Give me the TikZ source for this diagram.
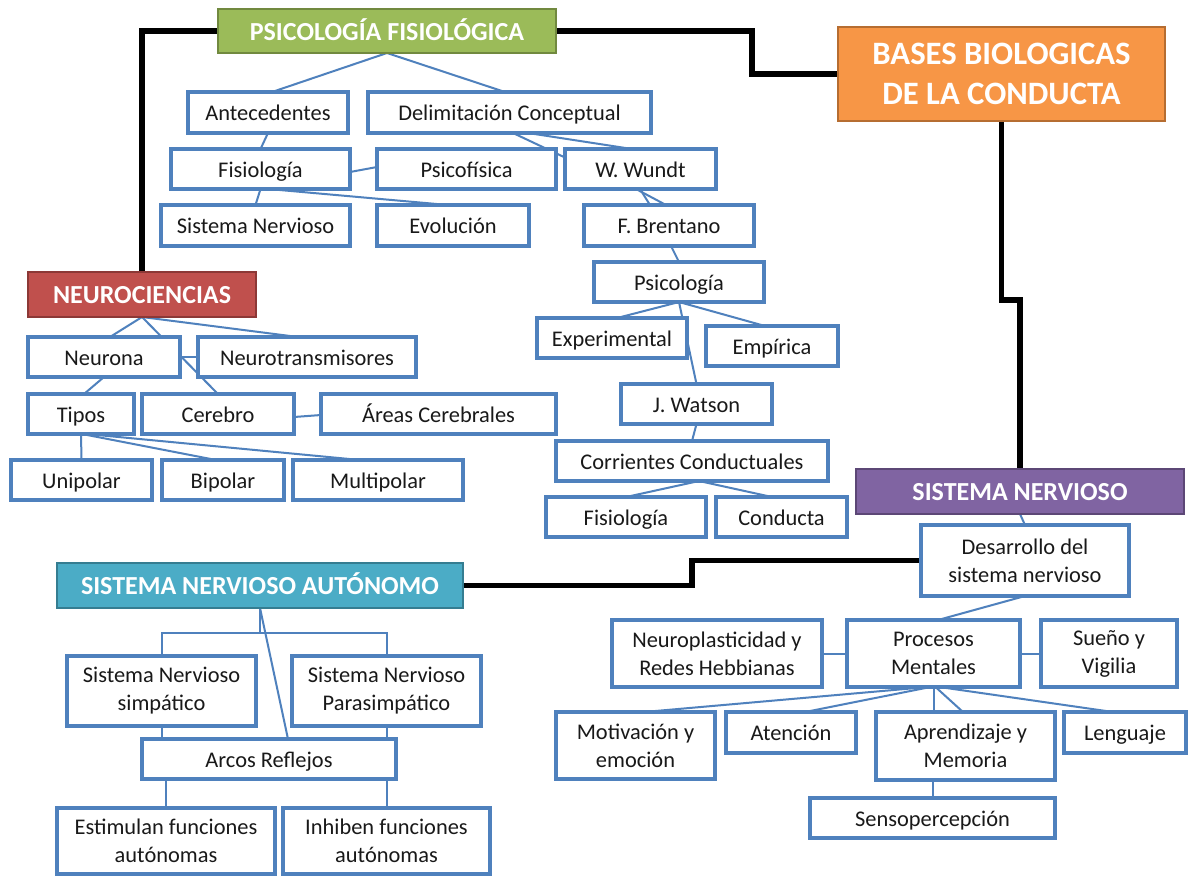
\documentclass[tikz,border=0pt]{standalone}
\usepackage{fontspec}
\setmainfont{Carlito}
\usetikzlibrary{calc}
\pgfdeclarelayer{links}
\pgfsetlayers{links,main}
\definecolor{boxblue}{HTML}{4F81BD}
\definecolor{hgreen}{HTML}{9BBB59}\definecolor{hgreenD}{HTML}{71893F}
\definecolor{horange}{HTML}{F79646}\definecolor{horangeD}{HTML}{B66D31}
\definecolor{hred}{HTML}{C0504D}\definecolor{hredD}{HTML}{8C3836}
\definecolor{hpurple}{HTML}{8064A2}\definecolor{hpurpleD}{HTML}{5C4776}
\definecolor{hteal}{HTML}{4BACC6}\definecolor{htealD}{HTML}{357D91}
\tikzset{
  concept/.style={draw=boxblue, line width=2.4pt, fill=white, inner sep=0pt, outer sep=0pt,
    align=center, text=black!90, font=\fontsize{16.8}{21}\selectfont},
  single/.style={concept, text height=13.5pt, text depth=1.5pt},
  head/.style={line width=1.5pt, inner sep=0pt, outer sep=0pt, text=white, align=center,
    font=\fontsize{19.5}{24}\selectfont\bfseries, text height=13.5pt, text depth=0pt},
  sz/.style 2 args={minimum width=#1*0.75pt, minimum height=#2*0.75pt},
  link/.style={draw=boxblue, line width=1.5pt},
  trunk/.style={draw=black, line width=3.8pt},
}
\begin{document}
\begin{tikzpicture}[x=0.75pt, y=-0.75pt]
\useasboundingbox (0,0) rectangle (1193,876);
\begin{pgfonlayer}{links}
  \fill[white] (0,0) rectangle (1193,876);
\end{pgfonlayer}

% ---- main headings ----
\node[head, fill=hgreen, draw=hgreenD, sz={338}{44}] (pf) at (387,31) {PSICOLOGÍA FISIOLÓGICA};
\node[head, fill=horange, draw=horangeD, sz={327}{94}, font=\fontsize{24.5}{30}\selectfont\bfseries, text height=, text depth=] (bases) at (1001.5,74) {BASES BIOLOGICAS\\DE LA CONDUCTA};
\node[head, fill=hred, draw=hredD, sz={228}{45}] (neuro) at (142,294.5) {NEUROCIENCIAS};
\node[head, fill=hpurple, draw=hpurpleD, sz={328}{45}] (sn) at (1020,491.5) {SISTEMA NERVIOSO};
\node[head, fill=hteal, draw=htealD, sz={406}{45}] (sna) at (260,585.5) {SISTEMA NERVIOSO AUTÓNOMO};

% ---- Psicología fisiológica branch ----
\node[single, sz={160}{41}] (ant) at (268,112.5) {Antecedentes};
\node[single, sz={283}{41}] (delim) at (509.5,112.5) {Delimitación Conceptual};
\node[single, sz={179}{40}] (fis1) at (260.5,169) {Fisiología};
\node[single, sz={179}{40}] (psicof) at (466.5,169) {Psicofísica};
\node[single, sz={151}{40}] (wundt) at (640.5,169) {W. Wundt};
\node[single, sz={189}{41}] (sisn) at (255.5,225.5) {Sistema Nervioso};
\node[single, sz={152}{41}] (evol) at (453,225.5) {Evolución};
\node[single, sz={170}{41}] (brent) at (669,225.5) {F. Brentano};
\node[single, sz={170}{40}] (psico) at (679,282) {Psicología};
\node[single, sz={150}{40}] (exper) at (612,338) {Experimental};
\node[single, sz={132}{40}] (empir) at (772,346) {Empírica};
\node[single, sz={151}{40}] (watson) at (696.5,404) {J. Watson};
\node[single, sz={272}{40}] (corr) at (692,461) {Corrientes Conductuales};
\node[single, sz={160}{40}] (fis2) at (626,517) {Fisiología};
\node[single, sz={131}{40}] (cond) at (781.5,517) {Conducta};

% ---- Neurociencias branch ----
\node[single, sz={152}{40}] (neurona) at (104,357) {Neurona};
\node[single, sz={218}{40}] (neurot) at (307,357) {Neurotransmisores};
\node[single, sz={106}{40}] (tipos) at (81,414) {Tipos};
\node[single, sz={152}{40}] (cerebro) at (218,414) {Cerebro};
\node[single, sz={235}{40}] (areas) at (438.5,414) {Áreas Cerebrales};
\node[single, sz={141}{40}] (unip) at (81.5,480) {Unipolar};
\node[single, sz={122}{40}] (bip) at (223,480) {Bipolar};
\node[single, sz={170}{40}] (multi) at (378,480) {Multipolar};

% ---- Sistema nervioso autónomo branch ----
\node[concept, sz={189}{70}] (simp) at (161.5,691) {Sistema Nervioso\\simpático};
\node[concept, sz={189}{70}] (parasimp) at (386.5,691) {Sistema Nervioso\\Parasimpático};
\node[single, sz={254}{40}] (arcos) at (269,759) {Arcos Reflejos};
\node[concept, sz={218}{66}] (estim) at (166,841) {Estimulan funciones\\autónomas};
\node[concept, sz={207}{66}] (inhib) at (386.5,841) {Inhiben funciones\\autónomas};

% ---- Sistema nervioso branch ----
\node[concept, sz={208}{71}] (desar) at (1025,560.5) {Desarrollo del\\sistema nervioso};
\node[concept, sz={210}{67}] (neuropl) at (717,653.5) {Neuroplasticidad y\\Redes Hebbianas};
\node[concept, sz={173}{67}] (proc) at (933.5,653.5) {Procesos\\Mentales};
\node[concept, sz={136}{67}] (sueno) at (1109,653.5) {Sueño y\\Vigilia};
\node[concept, sz={159}{67}] (motiv) at (635.5,745.5) {Motivación y\\emoción};
\node[single, sz={130}{41}] (aten) at (791,732.5) {Atención};
\node[concept, sz={179}{68}] (aprend) at (965.5,746) {Aprendizaje y\\Memoria};
\node[single, sz={122}{41}] (leng) at (1125,732.5) {Lenguaje};
\node[single, sz={245}{40}] (senso) at (932.5,818) {Sensopercepción};

\begin{pgfonlayer}{links}
  % thick trunk lines joining the main headings
  \draw[trunk] (pf.west) -| (neuro.north);
  \draw[trunk] (pf.east) -- ++(196,0) |- (bases.west);
  \draw[trunk] (bases.south) -- ++(0,179) -| (sn.north);
  \draw[trunk] (sna.east) -- ++(229,0) |- (desar.west);

  % Psicología fisiológica
  \draw[link] (pf.south) -- ($(ant.north)+(4,0)$);
  \draw[link] (pf.south) -- ($(delim.north)+(-4.5,0)$);
  \draw[link] (ant.south) -- (fis1.north);
  \draw[link] ($(delim.south)+(3.5,0)$) -- ($(wundt.north west)+(1,9)$);
  \draw[link] ($(delim.south)+(18.5,0)$) -- ($(wundt.north)+(-8.5,0)$);
  \draw[link] ($(fis1.east)+(0,3)$) -- ($(psicof.west)+(0,-2)$);
  \draw[link] (fis1.south) -- (sisn.north);
  \draw[link] ($(fis1.south)+(8,0)$) -- ($(evol.north)+(-5,0)$);
  \draw[link] ($(wundt.south)+(-4.5,0)$) -- ($(brent.north)+(-3,0)$);
  \draw[link] ($(wundt.south)+(-0.5,0)$) -- ($(brent.north)+(-19,0)$);
  \draw[link] ($(brent.south)+(2,0)$) -- (psico.north);
  \draw[link] (psico.south) -- ($(exper.north)+(5,0)$);
  \draw[link] (psico.south) -- ($(empir.north)+(-7,0)$);
  \draw[link] (psico.south) -- (watson.north);
  \draw[link] (watson.south) -- (corr.north);
  \draw[link] ($(corr.south)+(7,0)$) -- (fis2.north);
  \draw[link] ($(corr.south)+(7,0)$) -- ($(cond.north)+(-9.5,0)$);

  % Neurociencias
  \draw[link] (neuro.south) -- ($(neurona.north)+(6,0)$);
  \draw[link] (neuro.south) -- (cerebro.north);
  \draw[link] (neuro.south) -- ($(neurot.north)+(-9,0)$);
  \draw[link] (neurona.east) -- (neurot.west);
  \draw[link] (neurona.south) -- ($(tipos.north)+(3,0)$);
  \draw[link] ($(cerebro.east)+(0,3)$) -- ($(areas.west)+(0,1)$);
  \draw[link] (tipos.south) -- (unip.north);
  \draw[link] ($(tipos.south)+(1,0)$) -- ($(bip.north)+(-7,0)$);
  \draw[link] ($(tipos.south)+(6,0)$) -- ($(multi.north)+(-18,0)$);

  % Sistema nervioso autónomo
  \draw[link] (sna.south) -- ++(0,25);
  \draw[link] (simp.north) -- ++(0,-23) -| (parasimp.north);
  \draw[link] (sna.south) -- ($(arcos.north)+(19,0)$);
  \draw[link] (simp.south) -- (simp.south |- arcos.north);
  \draw[link] (parasimp.south) -- (parasimp.south |- arcos.north);
  \draw[link] (estim.north |- arcos.south) -- (estim.north);
  \draw[link] (inhib.north |- arcos.south) -- (inhib.north);

  % Sistema nervioso
  \draw[link] (sn.south) -- (desar.north);
  \draw[link] (desar.south) -- ($(proc.north)+(4.5,0)$);
  \draw[link] (neuropl.east) -- (proc.west);
  \draw[link] (proc.east) -- (sueno.west);
  \draw[link] ($(proc.south)+(-6,0)$) -- ($(motiv.north)+(8.5,0)$);
  \draw[link] ($(proc.south)+(-3,0)$) -- ($(aten.north)+(14,0)$);
  \draw[link] (proc.south) -- (proc.south |- aprend.north);
  \draw[link] ($(proc.south)+(2,0)$) -- ($(aprend.north)+(-2.5,0)$);
  \draw[link] ($(proc.south)+(6,0)$) -- ($(leng.north)+(-12,0)$);
  \draw[link] (senso.north |- aprend.south) -- (senso.north);
\end{pgfonlayer}
\end{tikzpicture}
\end{document}
